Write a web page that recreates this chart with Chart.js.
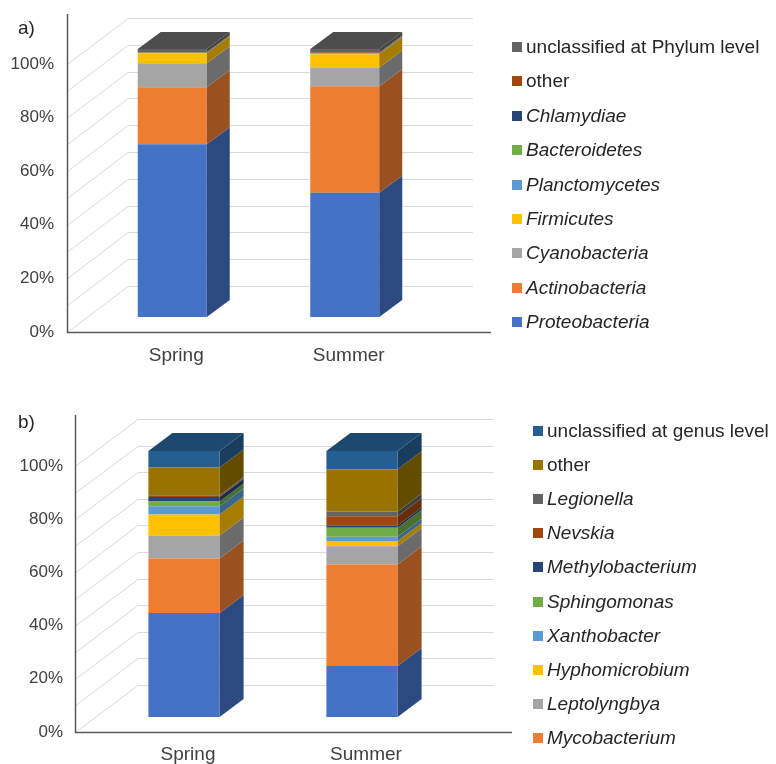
<!DOCTYPE html>
<html>
<head>
<meta charset="utf-8">
<title>Bacterial community composition</title>
<script src="https://cdn.jsdelivr.net/npm/chart.js@4"></script>
<style>
  body { margin: 0; width: 776px; height: 764px; overflow: hidden; background: #fff;
         font-family: "Liberation Sans", Arial, sans-serif; position: relative; }
  .panel { position: absolute; left: 0; width: 776px; }
  #panelA { top: 0; height: 380px; }
  #panelB { top: 380px; height: 384px; }
  .panel canvas { position: absolute; left: 0; top: 0; }
  .tag { position: absolute; left: 18px; font-size: 19px; line-height: 22px; color: #262626; }
  .legend { position: absolute; left: 0; top: 0; margin: 0; padding: 0; list-style: none; }
  .legend li { position: absolute; white-space: nowrap; font-size: 19px; line-height: 22px;
               height: 22px; color: #262626; display: flex; align-items: center; }
  .legend .box { display: inline-block; width: 10px; height: 10px; margin-right: 4px; }
  .legend .it { font-style: italic; }
</style>
</head>
<body>
<div class="panel" id="panelA">
  <canvas id="chartA" width="776" height="380"></canvas>
  <div class="tag" style="top:17px">a)</div>
  <ul class="legend" id="legendA"></ul>
</div>
<div class="panel" id="panelB">
  <canvas id="chartB" width="776" height="384"></canvas>
  <div class="tag" style="top:31px">b)</div>
  <ul class="legend" id="legendB"></ul>
</div>
<script>
const seasons = ['Spring', 'Summer'];

// a) phylum level, % of sequences, bottom of the stack first
const phylumNames = ['Proteobacteria', 'Actinobacteria', 'Cyanobacteria', 'Firmicutes', 'Planctomycetes',
                     'Bacteroidetes', 'Chlamydiae', 'other', 'unclassified at Phylum level'];
const phylumSpring = [64.5, 21.2, 9.0, 3.7, 0.1, 0.1, 0.1, 0.2, 1.1];
const phylumSummer = [46.4, 39.7, 7.0, 4.9, 0.2, 0.2, 0.1, 0.3, 1.2];

// b) genus level; the bottom (blue) series has its legend entry cut off in the original
const genusNames = ['', 'Mycobacterium', 'Leptolyngbya', 'Hyphomicrobium', 'Xanthobacter', 'Sphingomonas',
                    'Methylobacterium', 'Nevskia', 'Legionella', 'other', 'unclassified at genus level'];
const genusSpring = [39.1, 20.5, 8.6, 7.9, 3.1, 1.8, 1.7, 0.4, 0.3, 10.4, 6.2];
const genusSummer = [19.2, 38.1, 6.9, 2.0, 1.6, 3.3, 0.9, 3.5, 1.8, 15.8, 6.9];

const percentTicks = [0, 20, 40, 60, 80, 100];

// Office palette, in series order
const palette = ['#4472C4', '#ED7D31', '#A5A5A5', '#FFC000', '#5B9BD5', '#70AD47',
                 '#264478', '#9E480E', '#636363', '#997300', '#255E91'];
const plainLabels = ['other', 'unclassified at Phylum level', 'unclassified at genus level'];

function shade(hex, f) {
    const n = parseInt(hex.slice(1), 16);
    const r = Math.round(((n >> 16) & 255) * f);
    const g = Math.round(((n >> 8) & 255) * f);
    const b = Math.round((n & 255) * f);
    return `rgb(${r},${g},${b})`;
}

// Fake 3D: back wall grid, front axes, and side/top faces of the bars
const box3d = {
    id: 'box3d',
    beforeDatasetsDraw(chart, args, opts) {
        const { ctx, chartArea: area, scales: { x, y } } = chart;
        ctx.save();
        ctx.strokeStyle = '#d9d9d9';
        ctx.lineWidth = 1;
        y.ticks.forEach(t => {
            const py = y.getPixelForValue(t.value);
            const backY = Math.round(py + opts.back.y) + 0.5;
            const backX = area.left + opts.back.x;
            ctx.beginPath();
            ctx.moveTo(area.left + opts.front.x + 1, py + opts.front.y);
            ctx.lineTo(backX, backY);
            ctx.lineTo(area.right + opts.back.x, backY);
            ctx.stroke();
        });
        // front axes
        const fx = Math.round(area.left + opts.front.x) + 0.5;
        const fy = Math.round(y.getPixelForValue(0) + opts.front.y) + 0.5;
        ctx.strokeStyle = '#595959';
        ctx.lineWidth = 1.5;
        ctx.beginPath();
        ctx.moveTo(fx, y.getPixelForValue(100) + opts.back.y - 4);
        ctx.lineTo(fx, fy);
        ctx.lineTo(area.right + opts.back.x + 18, fy);
        ctx.stroke();
        ctx.restore();
    },
    afterDatasetsDraw(chart, args, opts) {
        const { ctx } = chart;
        const d = opts.depth;
        const sets = chart.data.datasets;
        ctx.save();
        sets.forEach((ds, i) => {
            const meta = chart.getDatasetMeta(i);
            meta.data.forEach((bar, j) => {
                const { x, y, base, width } = bar.getProps(['x', 'y', 'base', 'width'], true);
                const left = x - width / 2, right = x + width / 2;
                // side face
                ctx.fillStyle = shade(ds.backgroundColor, 0.65);
                ctx.beginPath();
                ctx.moveTo(right, y);
                ctx.lineTo(right + d.x, y + d.y);
                ctx.lineTo(right + d.x, base + d.y);
                ctx.lineTo(right, base);
                ctx.closePath();
                ctx.fill();
                // top face on the highest non-empty segment
                let top = -1;
                sets.forEach((s, k) => { if (s.data[j] > 0) top = k; });
                if (top === i) {
                    ctx.fillStyle = shade(ds.backgroundColor, 0.78);
                    ctx.beginPath();
                    ctx.moveTo(left, y);
                    ctx.lineTo(left + d.x, y + d.y);
                    ctx.lineTo(right + d.x, y + d.y);
                    ctx.lineTo(right, y);
                    ctx.closePath();
                    ctx.fill();
                }
            });
        });
        ctx.restore();
    }
};

function makeChart(canvasId, names, springVals, summerVals, geo) {
    const datasets = names.map((name, i) => ({
        label: name,
        data: [springVals[i], summerVals[i]],
        backgroundColor: palette[i],
        borderWidth: 0,
        categoryPercentage: 1,
        barPercentage: 0.4
    }));
    return new Chart(document.getElementById(canvasId), {
        type: 'bar',
        data: { labels: seasons, datasets },
        plugins: [box3d],
        options: {
            responsive: false,
            animation: false,
            layout: { padding: { left: 0, top: geo.top, right: geo.right, bottom: 0 } },
            plugins: {
                legend: { display: false },
                tooltip: { enabled: false },
                box3d: { front: geo.front, back: geo.back, depth: geo.depth }
            },
            scales: {
                x: {
                    stacked: true,
                    grid: { display: false, drawTicks: false },
                    border: { display: false },
                    ticks: {
                        color: '#404040',
                        padding: geo.xPad,
                        labelOffset: 4,
                        font: { family: '"Liberation Sans", Arial, sans-serif', size: 19 }
                    },
                    afterFit: s => { s.height = geo.xHeight; }
                },
                y: {
                    stacked: true,
                    min: 0,
                    max: 100,
                    grid: { display: false, drawTicks: false },
                    border: { display: false },
                    ticks: {
                        stepSize: 10,
                        autoSkip: false,
                        padding: 32,
                        labelOffset: geo.front.y,
                        color: '#404040',
                        font: { family: '"Liberation Sans", Arial, sans-serif', size: 17 },
                        callback: v => percentTicks.includes(v) ? v + '%' : ''
                    },
                    afterFit: s => { s.width = geo.yWidth; }
                }
            }
        }
    });
}

function buildLegend(chart, listId, boxX, firstY, step) {
    const list = document.getElementById(listId);
    const items = chart.data.datasets.slice().reverse().filter(ds => ds.label !== '');
    items.forEach((ds, i) => {
        const li = document.createElement('li');
        li.style.left = boxX + 'px';
        li.style.top = (firstY + i * step - 11) + 'px';
        const box = document.createElement('span');
        box.className = 'box';
        box.style.background = ds.backgroundColor;
        const txt = document.createElement('span');
        txt.textContent = ds.label;
        if (!plainLabels.includes(ds.label)) txt.className = 'it';
        li.appendChild(box);
        li.appendChild(txt);
        list.appendChild(li);
    });
}

const chartA = makeChart('chartA', phylumNames, phylumSpring, phylumSummer, {
    top: 49, right: 345, yWidth: 86, xHeight: 63, xPad: 27,
    front: { x: -19, y: 15 }, back: { x: 42, y: -31 }, depth: { x: 23, y: -17 }
});
const chartB = makeChart('chartB', genusNames, genusSpring, genusSummer, {
    top: 71, right: 325, yWidth: 95, xHeight: 47, xPad: 26,
    front: { x: -20, y: 15 }, back: { x: 43, y: -32 }, depth: { x: 24, y: -18 }
});

buildLegend(chartA, 'legendA', 512, 47, 34.4);
buildLegend(chartB, 'legendB', 533, 51, 34.1);
</script>
</body>
</html>
